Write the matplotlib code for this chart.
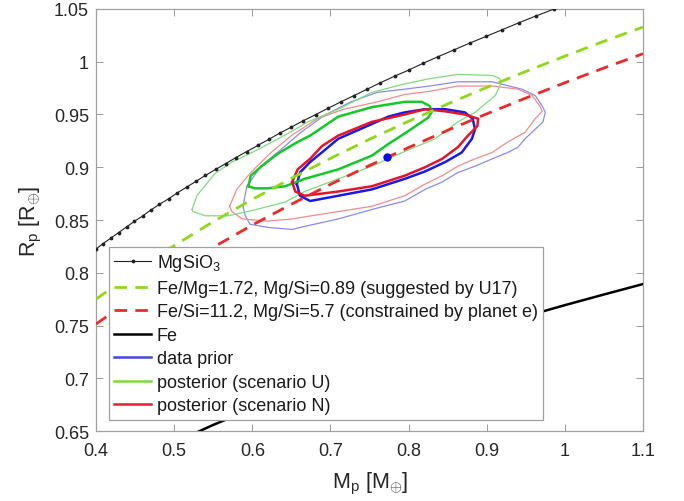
import matplotlib
matplotlib.use('Agg')
import matplotlib.pyplot as plt
from matplotlib.lines import Line2D

plt.rcParams['font.family'] = ['Liberation Sans', 'DejaVu Sans']
plt.rcParams['mathtext.fontset'] = 'custom'
plt.rcParams['mathtext.rm'] = 'Liberation Sans'
plt.rcParams['mathtext.it'] = 'Liberation Sans:italic'

# ---------------- data ----------------
mgsio3_m = [0.400, 0.409, 0.419, 0.429, 0.439, 0.449, 0.460, 0.470, 0.481, 0.493,
            0.504, 0.516, 0.528, 0.540, 0.553, 0.566, 0.579, 0.593, 0.607, 0.621,
            0.635, 0.650, 0.665, 0.681, 0.697, 0.713, 0.730, 0.747, 0.764, 0.782,
            0.801, 0.819, 0.838, 0.858, 0.878, 0.899, 0.920, 0.941, 0.963, 0.986, 1.009]
mgsio3_r = [0.8225, 0.8277, 0.8329, 0.8381, 0.8434, 0.8487, 0.8540, 0.8594, 0.8648, 0.8702,
            0.8757, 0.8812, 0.8867, 0.8923, 0.8979, 0.9035, 0.9092, 0.9149, 0.9207, 0.9264,
            0.9323, 0.9381, 0.9440, 0.9499, 0.9559, 0.9619, 0.9679, 0.9740, 0.9801, 0.9863,
            0.9924, 0.9987, 1.0049, 1.0112, 1.0176, 1.0240, 1.0304, 1.0369, 1.0434, 1.0499, 1.0565]

comp_m = [0.40, 0.45, 0.50, 0.55, 0.60, 0.65, 0.70, 0.75, 0.80, 0.85, 0.90, 0.95, 1.00, 1.05, 1.10]
u17_r = [0.7750, 0.8014, 0.8257, 0.8484, 0.8696, 0.8895, 0.9085, 0.9265, 0.9436, 0.9600,
         0.9757, 0.9908, 1.0053, 1.0194, 1.0329]
plane_r = [0.7514, 0.7775, 0.8016, 0.8241, 0.8452, 0.8650, 0.8838, 0.9017, 0.9187, 0.9350,
           0.9506, 0.9656, 0.9801, 0.9941, 1.0076]

fe_m = [0.50, 0.55, 0.60, 0.65, 0.70, 0.75, 0.80, 0.85, 0.90, 0.95, 1.00, 1.05, 1.10]
fe_r = [0.639, 0.6558, 0.6712, 0.6857, 0.6994, 0.7124, 0.7248, 0.7366, 0.7480, 0.7588,
        0.7693, 0.7794, 0.7893]

# contours (mass, radius) outlines
green_outer_m = [0.523, 0.529, 0.552, 0.574, 0.597, 0.623, 0.648, 0.671, 0.710, 0.753, 0.795, 0.827,
                 0.863, 0.907, 0.917, 0.918, 0.911, 0.885, 0.863, 0.834, 0.795, 0.753, 0.710, 0.667,
                 0.642, 0.600, 0.569, 0.540, 0.524]
green_outer_r = [0.860, 0.873, 0.894, 0.905, 0.913, 0.923, 0.933, 0.943, 0.955, 0.971, 0.979, 0.984,
                 0.988, 0.987, 0.984, 0.979, 0.968, 0.952, 0.943, 0.927, 0.915, 0.901, 0.889, 0.877,
                 0.867, 0.859, 0.854, 0.854, 0.858]
green_inner_m = [0.595, 0.598, 0.612, 0.633, 0.658, 0.674, 0.710, 0.753, 0.795, 0.817, 0.827, 0.830,
                 0.825, 0.817, 0.795, 0.774, 0.753, 0.710, 0.667, 0.642, 0.620, 0.603]
green_inner_r = [0.882, 0.892, 0.901, 0.913, 0.924, 0.930, 0.948, 0.957, 0.962, 0.962, 0.958, 0.953,
                 0.947, 0.943, 0.932, 0.922, 0.911, 0.898, 0.889, 0.882, 0.880, 0.880]
blue_inner_m = [0.657, 0.661, 0.674, 0.689, 0.710, 0.753, 0.774, 0.795, 0.821, 0.847, 0.872, 0.882,
                0.885, 0.881, 0.868, 0.847, 0.821, 0.795, 0.753, 0.710, 0.674, 0.661]
blue_inner_r = [0.884, 0.895, 0.905, 0.914, 0.927, 0.941, 0.948, 0.952, 0.955, 0.955, 0.952, 0.946,
                0.936, 0.927, 0.914, 0.905, 0.896, 0.889, 0.879, 0.873, 0.868, 0.873]
red_inner_m = [0.651, 0.658, 0.674, 0.689, 0.710, 0.753, 0.795, 0.821, 0.847, 0.872, 0.889, 0.888,
               0.876, 0.863, 0.843, 0.821, 0.795, 0.753, 0.710, 0.667, 0.655]
red_inner_r = [0.886, 0.898, 0.908, 0.920, 0.930, 0.943, 0.950, 0.955, 0.953, 0.950, 0.946, 0.939,
               0.930, 0.919, 0.908, 0.900, 0.892, 0.882, 0.877, 0.873, 0.877]
blue_outer_m = [0.588, 0.593, 0.611, 0.637, 0.662, 0.692, 0.726, 0.760, 0.795, 0.827, 0.863, 0.907,
                0.945, 0.962, 0.971, 0.975, 0.972, 0.962, 0.949, 0.940, 0.927, 0.907, 0.885, 0.863,
                0.843, 0.821, 0.795, 0.753, 0.710, 0.667, 0.651, 0.620, 0.597, 0.591]
blue_outer_r = [0.863, 0.882, 0.901, 0.917, 0.933, 0.949, 0.962, 0.971, 0.974, 0.977, 0.981, 0.981,
                0.974, 0.968, 0.958, 0.952, 0.943, 0.936, 0.927, 0.919, 0.914, 0.908, 0.901, 0.895,
                0.886, 0.879, 0.868, 0.860, 0.851, 0.844, 0.841, 0.843, 0.846, 0.854]
red_outer_m = [0.571, 0.580, 0.598, 0.624, 0.650, 0.683, 0.717, 0.760, 0.795, 0.827, 0.863, 0.907,
               0.940, 0.958, 0.968, 0.971, 0.962, 0.949, 0.927, 0.907, 0.885, 0.863, 0.843, 0.821,
               0.795, 0.753, 0.710, 0.667, 0.651, 0.620, 0.587, 0.574]
red_outer_r = [0.863, 0.879, 0.895, 0.914, 0.930, 0.946, 0.955, 0.962, 0.969, 0.972, 0.977, 0.977,
               0.974, 0.968, 0.958, 0.953, 0.946, 0.933, 0.924, 0.914, 0.908, 0.901, 0.892, 0.884,
               0.873, 0.863, 0.858, 0.853, 0.851, 0.849, 0.851, 0.858]

data_point = (0.772, 0.910)

xticks = [0.4, 0.5, 0.6, 0.7, 0.8, 0.9, 1.0, 1.1]
xticklabels = ['0.4', '0.5', '0.6', '0.7', '0.8', '0.9', '1', '1.1']
yticks = [0.65, 0.7, 0.75, 0.8, 0.85, 0.9, 0.95, 1.0, 1.05]
yticklabels = ['0.65', '0.7', '0.75', '0.8', '0.85', '0.9', '0.95', '1', '1.05']

labels = ['MgSiO$_\\mathregular{3}$',
          'Fe/Mg=1.72, Mg/Si=0.89 (suggested by U17)',
          'Fe/Si=11.2, Mg/Si=5.7 (constrained by planet e)',
          'Fe', 'data prior', 'posterior (scenario U)', 'posterior (scenario N)']

# ---------------- plot ----------------
def closed(m, r):
    return list(m) + [m[0]], list(r) + [r[0]]

fig = plt.figure(figsize=(6.84, 5.02), dpi=100)
ax = fig.add_axes([0.1404, 0.1394, 0.7997, 0.8407])

C_BLUE = '#1a1ae6'; C_BLUE_L = '#8a8af2'
C_GREEN = '#14c828'; C_GREEN_L = '#7cdc7c'
C_RED = '#e4142a'; C_RED_L = '#f08c8c'

ax.plot(mgsio3_m, mgsio3_r, color='#222222', lw=0.8, marker='.', ms=3.5, zorder=3)
ax.plot(comp_m, u17_r, color='#8ed81c', lw=2.0, ls=(0, (4.5, 3)), zorder=3)
ax.plot(comp_m, plane_r, color='#ec2a2a', lw=2.0, ls=(0, (4.5, 3)), zorder=3)
ax.plot(fe_m, fe_r, color='black', lw=1.8, zorder=3)

ax.plot(*closed(blue_outer_m, blue_outer_r), color=C_BLUE_L, lw=0.9, zorder=2)
ax.plot(*closed(red_outer_m, red_outer_r), color=C_RED_L, lw=0.9, zorder=2)
ax.plot(*closed(green_outer_m, green_outer_r), color=C_GREEN_L, lw=0.9, zorder=2)
ax.plot(*closed(blue_inner_m, blue_inner_r), color=C_BLUE, lw=1.8, zorder=2)
ax.plot(*closed(green_inner_m, green_inner_r), color=C_GREEN, lw=1.8, zorder=2)
ax.plot(*closed(red_inner_m, red_inner_r), color=C_RED, lw=1.8, zorder=2)
ax.plot([data_point[0]], [data_point[1]], 'o', color='#0a0ae6', ms=5, zorder=4)

ax.set_xlim(0.4, 1.1)
ax.set_ylim(0.65, 1.05)
ax.set_xticks(xticks)
ax.set_xticklabels(xticklabels)
ax.set_yticks(yticks)
ax.set_yticklabels(yticklabels)
ax.tick_params(direction='in', top=True, right=True, length=5, width=0.7,
               color='#999999', labelcolor='#262626', labelsize=13)
ax.tick_params(axis='x', pad=8)
ax.tick_params(axis='y', pad=5)
for s in ax.spines.values():
    s.set_color('#a0a0a0')
    s.set_linewidth(0.9)

ax.set_xlabel('M$_\\mathregular{p}$ [M$_{\\oplus}$]', fontsize=15.5, color='#262626', labelpad=8)
ax.set_ylabel('R$_\\mathregular{p}$ [R$_{\\oplus}$]', fontsize=15.5, color='#262626', labelpad=7)

handles = [
    Line2D([], [], color='#222222', lw=0.8, marker='.', ms=3.5),
    Line2D([], [], color='#8ed81c', lw=2.0, ls=(0, (4.5, 3))),
    Line2D([], [], color='#ec2a2a', lw=2.0, ls=(0, (4.5, 3))),
    Line2D([], [], color='black', lw=1.8),
    Line2D([], [], color='#4646e0', lw=1.8),
    Line2D([], [], color='#78dc3c', lw=1.8),
    Line2D([], [], color='#e41e32', lw=1.8),
]
leg = ax.legend(handles, labels, loc='upper left', bbox_to_anchor=(0.0238, 0.436),
                fontsize=13, frameon=True, fancybox=False, edgecolor='#a0a0a0',
                framealpha=1, handlelength=2.0, handletextpad=0.33, labelspacing=0.36,
                borderpad=0.3, borderaxespad=0, numpoints=1)
leg.get_frame().set_linewidth(0.9)
for t in leg.get_texts():
    t.set_color('#1a1a1a')

fig.savefig('out.png', dpi=100)
